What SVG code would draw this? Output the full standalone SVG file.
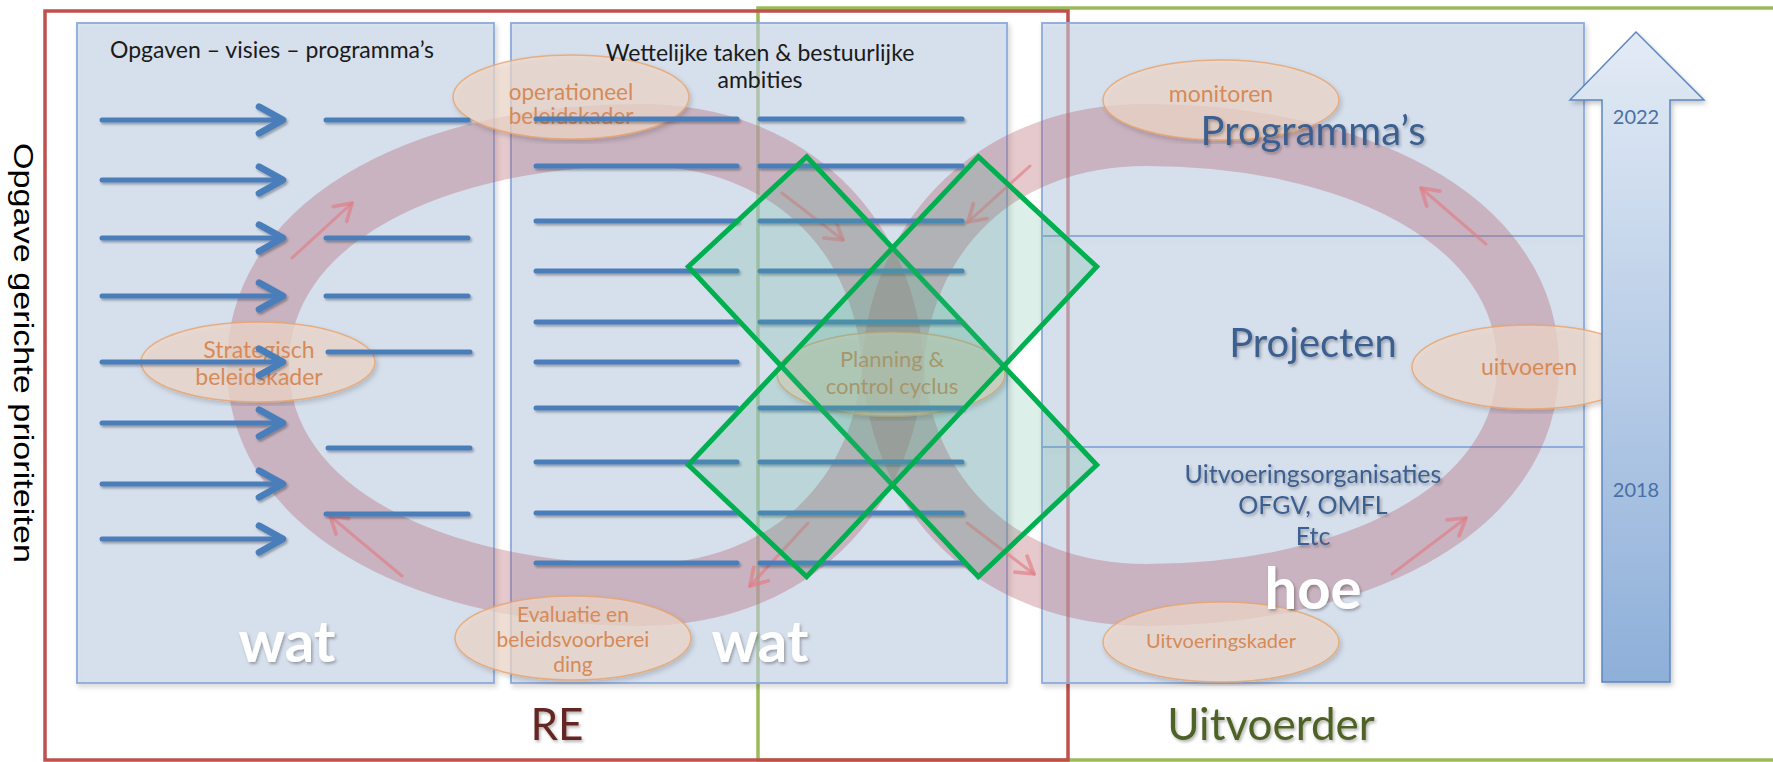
<svg xmlns="http://www.w3.org/2000/svg" width="1773" height="762" viewBox="0 0 1773 762">
  <defs>
    <style>
      .panel { fill: #c2d3ea; fill-opacity: 0.55; stroke: #8eaadb; stroke-width: 1.8; }
      .band { fill: none; stroke: #b05a68; stroke-opacity: 0.33; stroke-width: 62; stroke-linecap: butt; }
      .barrow { fill: none; stroke: #e07c86; stroke-opacity: 0.65; stroke-width: 3; stroke-linecap: round; }
      .ell { fill: #f0d8cb; fill-opacity: 0.7; stroke: #e9a36a; stroke-opacity: 0.8; stroke-width: 1.5; }
      .etxt { font-family: 'Lato', 'Liberation Sans', sans-serif; fill: #d68a58; text-anchor: middle; }
      .bl { stroke: #4a7ebb; stroke-width: 5; stroke-linecap: round; fill: none; }
      .hdr { font-family: 'Lato', 'Liberation Sans', sans-serif; font-size: 23px; fill: #1a1a1a; }
      .big { font-family: 'Lato', 'Liberation Sans', sans-serif; fill: #3b5e8f; text-anchor: middle; }
      .white { font-family: 'Lato', 'Liberation Sans', sans-serif; font-weight: bold; font-size: 58px; fill: #ffffff; text-anchor: middle; }
      .xbar { fill: #4fb08a; fill-opacity: 0.2; stroke: #00b050; stroke-width: 5; }
      .yr { font-family: 'Lato', 'Liberation Sans', sans-serif; font-size: 20px; fill: #4a6fa5; text-anchor: middle; }
    </style>
    <filter id="shadow" x="-5%" y="-5%" width="110%" height="110%">
      <feDropShadow dx="2" dy="3" stdDeviation="2.5" flood-color="#000" flood-opacity="0.22"/>
    </filter>
    <filter id="lshadow" x="-5%" y="-50%" width="110%" height="200%">
      <feDropShadow dx="1.5" dy="2" stdDeviation="1.2" flood-color="#000" flood-opacity="0.3"/>
    </filter>
    <filter id="tshadow" x="-10%" y="-20%" width="120%" height="140%">
      <feDropShadow dx="1.5" dy="2" stdDeviation="1.5" flood-color="#000" flood-opacity="0.3"/>
    </filter>
    <marker id="blueHead" markerUnits="userSpaceOnUse" markerWidth="40" markerHeight="40" viewBox="-25 -15 30 30" refX="0" refY="0" orient="auto" overflow="visible">
      <path d="M-18,-10 L0,0 L-18,10" fill="none" stroke="#4a7ebb" stroke-width="5" stroke-linecap="round" stroke-linejoin="round"/>
    </marker>
    <marker id="pinkHead" markerUnits="userSpaceOnUse" markerWidth="30" markerHeight="30" viewBox="-20 -12 24 24" refX="0" refY="0" orient="auto" overflow="visible">
      <path d="M-13,-8 L0,0 L-13,8" fill="none" stroke="#e07c86" stroke-opacity="0.65" stroke-width="3" stroke-linecap="round" stroke-linejoin="round"/>
    </marker>
    <linearGradient id="upGrad" x1="0" y1="0" x2="0" y2="1">
      <stop offset="0" stop-color="#e3ebf5"/>
      <stop offset="1" stop-color="#8eafd9"/>
    </linearGradient>
  </defs>

  <rect x="0" y="0" width="1773" height="762" fill="#ffffff"/>

  <!-- outer frames -->
  <g id="frame-uitvoerder">
    <rect x="758" y="8" width="1040" height="752" fill="none" stroke="#9bbb59" stroke-width="3.5"/>
  </g>
  <g id="frame-re">
    <rect x="45" y="11" width="1023" height="749" fill="none" stroke="#c0504d" stroke-width="3.5"/>
  </g>

  <!-- panels -->
  <g id="panels" filter="url(#shadow)">
    <rect id="panel-opgaven" class="panel" x="77" y="23" width="417" height="660"/>
    <rect id="panel-wettelijk" class="panel" x="511" y="23" width="496" height="660"/>
    <rect id="panel-programmas" class="panel" x="1042" y="23" width="542" height="213"/>
    <rect id="panel-projecten" class="panel" x="1042" y="236" width="542" height="211"/>
    <rect id="panel-uitvoering" class="panel" x="1042" y="447" width="542" height="236"/>
  </g>

  <!-- figure-eight cycle band -->
  <g id="cycle-band">
    <path class="band" d="M258,365 C258,215 440,135 640,135 C790,135 885,235 893,365 C901,495 996,595 1146,595 C1346,595 1528,515 1528,365"/>
    <path class="band" d="M1528,365 C1528,215 1346,135 1146,135 C996,135 901,235 893,365 C885,495 790,595 640,595 C440,595 258,515 258,365"/>
  </g>

  <!-- flow arrows on the band -->
  <g id="connectors-band">
    <line class="barrow" x1="292" y1="258" x2="352" y2="203" marker-end="url(#pinkHead)"/>
    <line class="barrow" x1="402" y1="576" x2="330" y2="516" marker-end="url(#pinkHead)"/>
    <line class="barrow" x1="782" y1="193" x2="843" y2="240" marker-end="url(#pinkHead)"/>
    <line class="barrow" x1="1030" y1="166" x2="968" y2="222" marker-end="url(#pinkHead)"/>
    <line class="barrow" x1="808" y1="523" x2="750" y2="586" marker-end="url(#pinkHead)"/>
    <line class="barrow" x1="967" y1="523" x2="1034" y2="574" marker-end="url(#pinkHead)"/>
    <line class="barrow" x1="1392" y1="574" x2="1466" y2="518" marker-end="url(#pinkHead)"/>
    <line class="barrow" x1="1486" y1="244" x2="1421" y2="188" marker-end="url(#pinkHead)"/>
  </g>

  <!-- cycle stage ellipses -->
  <g id="node-operationeel" filter="url(#shadow)">
    <ellipse class="ell" cx="571" cy="97" rx="118" ry="42"/>
  </g>
  <g id="node-strategisch" filter="url(#shadow)">
    <ellipse class="ell" cx="258" cy="362" rx="117" ry="40"/>
  </g>
  <g id="node-evaluatie" filter="url(#shadow)">
    <ellipse class="ell" cx="573" cy="638" rx="118" ry="42"/>
  </g>
  <g id="node-planning" filter="url(#shadow)">
    <ellipse class="ell" cx="891" cy="374" rx="114" ry="42"/>
  </g>
  <g id="node-monitoren" filter="url(#shadow)">
    <ellipse class="ell" cx="1221" cy="100" rx="118" ry="40"/>
  </g>
  <g id="node-uitvoeren" filter="url(#shadow)">
    <ellipse class="ell" cx="1529" cy="367" rx="117" ry="42"/>
  </g>
  <g id="node-uitvoeringskader" filter="url(#shadow)">
    <ellipse class="ell" cx="1221" cy="642" rx="118" ry="40"/>
  </g>

  <g id="ellipse-labels">
    <text class="etxt" x="571" y="100" font-size="22.5">operationeel</text>
    <text class="etxt" x="571" y="124" font-size="22.5">beleidskader</text>
    <text class="etxt" x="259" y="358" font-size="23">Strategisch</text>
    <text class="etxt" x="259" y="385" font-size="23">beleidskader</text>
    <text class="etxt" x="573" y="622" font-size="21">Evaluatie en</text>
    <text class="etxt" x="573" y="647" font-size="21">beleidsvoorberei</text>
    <text class="etxt" x="573" y="672" font-size="21">ding</text>
    <text class="etxt" x="892" y="367" font-size="22">Planning &amp;</text>
    <text class="etxt" x="892" y="394" font-size="22">control cyclus</text>
    <text class="etxt" x="1221" y="102" font-size="23">monitoren</text>
    <text class="etxt" x="1529" y="375" font-size="23">uitvoeren</text>
    <text class="etxt" x="1221" y="648" font-size="20">Uitvoeringskader</text>
  </g>

  <!-- blue lines / arrows -->
  <g id="connectors-lines" filter="url(#lshadow)">
    <line class="bl" x1="102" y1="120" x2="283" y2="120" marker-end="url(#blueHead)"/>
    <line class="bl" x1="102" y1="180" x2="283" y2="180" marker-end="url(#blueHead)"/>
    <line class="bl" x1="102" y1="238" x2="283" y2="238" marker-end="url(#blueHead)"/>
    <line class="bl" x1="102" y1="296" x2="283" y2="296" marker-end="url(#blueHead)"/>
    <line class="bl" x1="102" y1="362" x2="283" y2="362" marker-end="url(#blueHead)"/>
    <line class="bl" x1="102" y1="423" x2="283" y2="423" marker-end="url(#blueHead)"/>
    <line class="bl" x1="102" y1="484" x2="283" y2="484" marker-end="url(#blueHead)"/>
    <line class="bl" x1="102" y1="539" x2="283" y2="539" marker-end="url(#blueHead)"/>

    <line class="bl" x1="326" y1="120" x2="468" y2="120"/>
    <line class="bl" x1="326" y1="238" x2="468" y2="238"/>
    <line class="bl" x1="326" y1="296" x2="468" y2="296"/>
    <line class="bl" x1="328" y1="352" x2="470" y2="352"/>
    <line class="bl" x1="328" y1="448" x2="470" y2="448"/>
    <line class="bl" x1="326" y1="514" x2="468" y2="514"/>

    <line class="bl" x1="536" y1="119" x2="737" y2="119"/>
    <line class="bl" x1="536" y1="166" x2="737" y2="166"/>
    <line class="bl" x1="536" y1="221" x2="737" y2="221"/>
    <line class="bl" x1="536" y1="271" x2="737" y2="271"/>
    <line class="bl" x1="536" y1="322" x2="737" y2="322"/>
    <line class="bl" x1="536" y1="362" x2="737" y2="362"/>
    <line class="bl" x1="536" y1="408" x2="737" y2="408"/>
    <line class="bl" x1="536" y1="462" x2="737" y2="462"/>
    <line class="bl" x1="536" y1="513" x2="737" y2="513"/>
    <line class="bl" x1="536" y1="563" x2="737" y2="563"/>

    <line class="bl" x1="760" y1="119" x2="962" y2="119"/>
    <line class="bl" x1="760" y1="166" x2="962" y2="166"/>
    <line class="bl" x1="760" y1="221" x2="962" y2="221"/>
    <line class="bl" x1="760" y1="271" x2="962" y2="271"/>
    <line class="bl" x1="760" y1="322" x2="962" y2="322"/>
    <line class="bl" x1="760" y1="408" x2="962" y2="408"/>
    <line class="bl" x1="760" y1="462" x2="962" y2="462"/>
    <line class="bl" x1="760" y1="513" x2="962" y2="513"/>
    <line class="bl" x1="760" y1="563" x2="962" y2="563"/>
  </g>

  <!-- green X -->
  <g id="node-green-x">
    <polygon class="xbar" points="806.7,156.7 1096.7,465 978.3,576.7 688.3,266.7"/>
    <polygon class="xbar" points="978.3,156.7 1096.7,266.7 806.7,576.7 688.3,465"/>
  </g>

  <!-- time arrow -->
  <g id="node-time-arrow" filter="url(#shadow)">
    <path d="M1602,682 L1602,100 L1570,100 L1636,32 L1704,100 L1670,100 L1670,682 Z" fill="url(#upGrad)" stroke="#5b86be" stroke-width="1.5"/>
  </g>
  <g id="year-labels">
    <text class="yr" x="1636" y="124">2022</text>
    <text class="yr" x="1636" y="497">2018</text>
  </g>

  <!-- headers -->
  <g id="headers">
    <text class="hdr" x="110" y="58">Opgaven – visies – programma’s</text>
    <text class="hdr" x="760" y="61" text-anchor="middle">Wettelijke taken &amp; bestuurlijke</text>
    <text class="hdr" x="760" y="88" text-anchor="middle">ambities</text>
  </g>

  <g id="panel3-labels" filter="url(#tshadow)">
    <text class="big" x="1313" y="145" font-size="40">Programma’s</text>
    <text class="big" x="1313" y="357" font-size="40">Projecten</text>
    <text class="big" x="1313" y="483" font-size="25">Uitvoeringsorganisaties</text>
    <text class="big" x="1313" y="514" font-size="25">OFGV, OMFL</text>
    <text class="big" x="1313" y="545" font-size="25">Etc</text>
  </g>

  <g id="white-labels" filter="url(#tshadow)">
    <text class="white" x="287" y="662">wat</text>
    <text class="white" x="760" y="662">wat</text>
    <text class="white" x="1313" y="609">hoe</text>
  </g>

  <g id="frame-labels" filter="url(#tshadow)">
    <text x="557" y="740" font-family="'Lato', 'Liberation Sans', sans-serif" font-size="44" fill="#632523" text-anchor="middle">RE</text>
    <text x="1271" y="740" font-family="'Lato', 'Liberation Sans', sans-serif" font-size="44" fill="#4f6228" text-anchor="middle">Uitvoerder</text>
  </g>

  <g id="side-label">
    <text transform="translate(14,143) rotate(90)" font-family="'Liberation Sans', Arial, sans-serif" font-size="28" fill="#000000" textLength="420" lengthAdjust="spacingAndGlyphs">Opgave gerichte prioriteiten</text>
  </g>
</svg>
